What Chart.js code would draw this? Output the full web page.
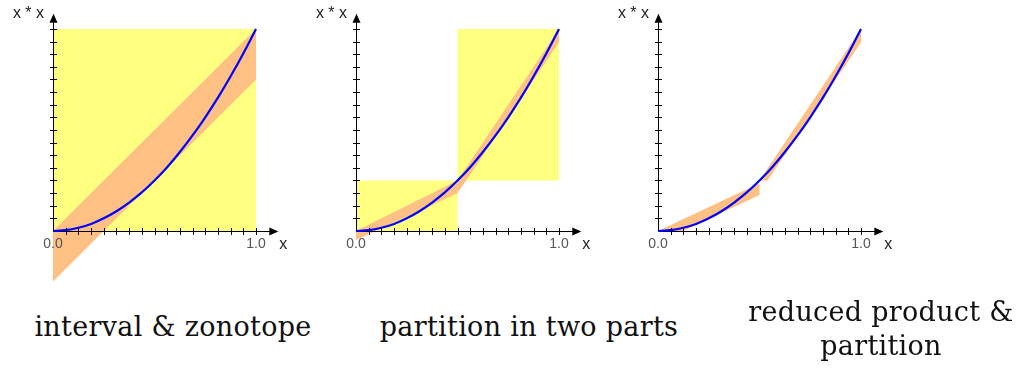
<!DOCTYPE html>
<html>
<head>
<meta charset="utf-8">
<script src="https://cdn.jsdelivr.net/npm/chart.js@4/dist/chart.umd.min.js"></script>
<style>
  body { margin: 0; background: #fff; width: 1019px; height: 369px; position: relative; overflow: hidden; }
  canvas { position: absolute; top: 0; }
  .caption { position: absolute; width: 400px; text-align: center; font-family: "DejaVu Serif", serif; font-size: 27px; letter-spacing: 0.3px; color: #111; line-height: 34px; }
</style>
</head>
<body>
<canvas id="p1" width="300" height="300" style="left:0px"></canvas>
<canvas id="p2" width="300" height="300" style="left:303px"></canvas>
<canvas id="p3" width="300" height="300" style="left:605px"></canvas>
<div class="caption" style="left:-27px; top:310px">interval &amp; zonotope</div>
<div class="caption" style="left:329px; top:310px">partition in two parts</div>
<div class="caption" style="left:681px; top:295px">reduced product &amp;<br>partition</div>
<script>
// ---- data ----
// the exact square x*x
const curveX = [0, 0.0625, 0.125, 0.1875, 0.25, 0.3125, 0.375, 0.4375, 0.5, 0.5625, 0.625, 0.6875, 0.75, 0.8125, 0.875, 0.9375, 1];
const curveY = [0, 0.004, 0.016, 0.035, 0.063, 0.098, 0.141, 0.191, 0.25, 0.316, 0.391, 0.473, 0.563, 0.660, 0.766, 0.879, 1];

// panel 1 : interval box and zonotope
const box1X = [0, 1, 1, 0];
const box1Y = [0, 0, 1, 1];
const zono1X = [0, 1, 1, 0];
const zono1Y = [0, 1, 0.75, -0.25];

// panel 2 : partition in two parts
const box2aX = [0, 0.5, 0.5, 0];
const box2aY = [0, 0, 0.25, 0.25];
const box2bX = [0.5, 1, 1, 0.5];
const box2bY = [0.25, 0.25, 1, 1];
const zono2aX = [0, 0.5, 0.5, 0];
const zono2aY = [0, 0.25, 0.187, -0.045];
const zono2bX = [0.5, 1, 1, 0.5];
const zono2bY = [0.25, 1, 0.935, 0.187];

// panel 3 : reduced product & partition
const zono3aX = [0, 0.5, 0.5, 0.123];
const zono3aY = [0, 0.236, 0.178, 0];
const zono3bX = [0.5, 1, 1, 0.54];
const zono3bY = [0.25, 1, 0.935, 0.25];

// axes
const tickStep = 0.0625;
const tickValues = [0, 1];
const tickLabels = ['0.0', '1.0'];
const yAxisTitle = 'x * x';
const xAxisTitle = 'x';

const YELLOW = 'rgb(255,255,128)';
const ORANGE = 'rgb(255,192,132)';

function pts(xs, ys) {
  return xs.map((x, i) => ({x: x, y: ys[i]}));
}

function shape(xs, ys, color) {
  return {
    data: pts(xs, ys),
    fill: 'shape',
    backgroundColor: color,
    borderWidth: 0,
    pointRadius: 0,
    tension: 0
  };
}

// axes with arrows, ticks crossing the axis, drawn through the chart scales
const arrowAxes = {
  id: 'arrowAxes',
  beforeDatasetDraw(chart, args) {
    if (args.index !== 0) return;
    const xs = chart.scales.x, ys = chart.scales.y;
    const ctx = chart.ctx;
    const x0 = xs.getPixelForValue(0), y0 = ys.getPixelForValue(0);
    const xEnd = xs.getPixelForValue(1.11), yEnd = ys.getPixelForValue(1.075);
    ctx.save();
    ctx.strokeStyle = '#000';
    ctx.fillStyle = '#000';
    ctx.lineWidth = 1;
    ctx.beginPath();
    ctx.moveTo(x0, y0 + 0.5); ctx.lineTo(xEnd - 6, y0 + 0.5);
    ctx.moveTo(x0 + 0.5, y0); ctx.lineTo(x0 + 0.5, yEnd + 6);
    for (let v = tickStep; v <= 1.0001; v += tickStep) {
      const px = Math.round(xs.getPixelForValue(v)) + 0.5;
      ctx.moveTo(px, y0 - 3); ctx.lineTo(px, y0 + 4);
      const py = Math.round(ys.getPixelForValue(v)) + 0.5;
      ctx.moveTo(x0 - 3, py); ctx.lineTo(x0 + 4, py);
    }
    ctx.stroke();
    // arrow heads
    ctx.beginPath();
    ctx.moveTo(xEnd, y0 + 0.5); ctx.lineTo(xEnd - 9, y0 - 3.5); ctx.lineTo(xEnd - 9, y0 + 4.5); ctx.closePath();
    ctx.fill();
    ctx.beginPath();
    ctx.moveTo(x0 + 0.5, yEnd); ctx.lineTo(x0 - 3.5, yEnd + 9); ctx.lineTo(x0 + 4.5, yEnd + 9); ctx.closePath();
    ctx.fill();
    // labels
    ctx.font = '14px "Liberation Sans", Arial, sans-serif';
    ctx.fillStyle = '#555';
    ctx.textAlign = 'center';
    ctx.textBaseline = 'middle';
    tickValues.forEach((v, i) => ctx.fillText(tickLabels[i], xs.getPixelForValue(v), y0 + 13));
    ctx.font = '16px "Liberation Sans", Arial, sans-serif';
    ctx.fillStyle = '#222';
    ctx.textAlign = 'right';
    ctx.fillText(yAxisTitle, x0 - 9, yEnd);
    ctx.textAlign = 'left';
    ctx.fillText(xAxisTitle, xEnd + 1, y0 + 14);
    ctx.restore();
  }
};

// one unit = 203 px, origin at (53, 231) inside each 300x300 canvas
const UNIT = 203, OX = 53, OY = 231, W = 300, H = 300;

function makePanel(id, shapes) {
  const datasets = [{
    data: pts(curveX, curveY),
    borderColor: '#0000ff',
    borderWidth: 2.2,
    pointRadius: 0,
    fill: false,
    tension: 0.3
  }].concat(shapes);
  new Chart(document.getElementById(id), {
    type: 'line',
    data: {datasets: datasets},
    options: {
      responsive: false,
      animation: false,
      devicePixelRatio: 1,
      layout: {padding: 0},
      plugins: {legend: {display: false}, tooltip: {enabled: false}},
      scales: {
        x: {type: 'linear', display: false, min: -OX / UNIT, max: (W - OX) / UNIT},
        y: {type: 'linear', display: false, min: -(H - OY) / (UNIT - 1), max: OY / (UNIT - 1)}
      }
    },
    plugins: [arrowAxes]
  });
}

// datasets drawn last-to-first, so the curve (index 0) ends on top
makePanel('p1', [
  shape(zono1X, zono1Y, ORANGE),
  shape(box1X, box1Y, YELLOW)
]);
makePanel('p2', [
  shape(zono2aX, zono2aY, ORANGE),
  shape(zono2bX, zono2bY, ORANGE),
  shape(box2aX, box2aY, YELLOW),
  shape(box2bX, box2bY, YELLOW)
]);
makePanel('p3', [
  shape(zono3aX, zono3aY, ORANGE),
  shape(zono3bX, zono3bY, ORANGE)
]);
</script>
</body>
</html>
